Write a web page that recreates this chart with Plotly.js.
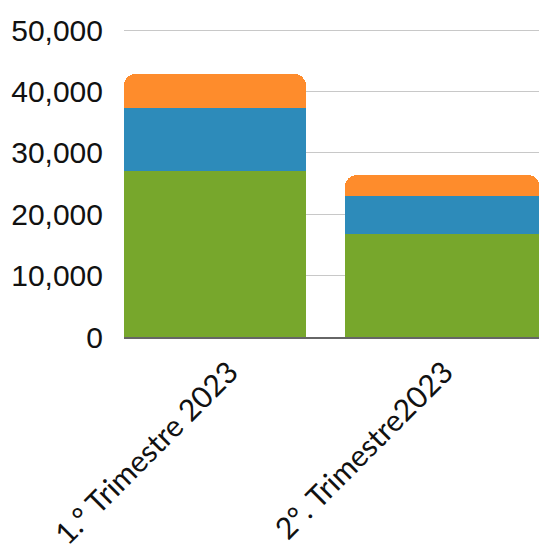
<!DOCTYPE html>
<html>
<head>
<meta charset="utf-8">
<script src="https://cdn.plot.ly/plotly-3.0.1.min.js"></script>
<style>html,body{margin:0;padding:0;overflow:hidden;background:#fff}</style>
</head>
<body>
<div id="chart" style="width:539px;height:548px"></div>
<script>
const categories = ["1.° Trimestre 2023", "2°. Trimestre2023"];
const seriesGreen = [27100, 16800];
const seriesBlue = [10250, 6200];
const seriesOrange = [5550, 3400];
const yTickValues = [0, 10000, 20000, 30000, 40000, 50000];

const barOffsets = [-0.491, -0.463];
const barWidths = [0.847, 0.907];
function mk(name, vals, color) {
  return {type: 'bar', name: name, x: categories, y: vals,
          offset: barOffsets, width: barWidths,
          marker: {color: color, line: {width: 0}}, hoverinfo: 'skip'};
}
const data = [
  mk('Serie 1', seriesGreen, '#77a72c'),
  mk('Serie 2', seriesBlue, '#2d8bba'),
  mk('Serie 3', seriesOrange, '#fe8c2c')
];
const layout = {
  width: 539, height: 548,
  margin: {l: 124, r: 0, t: 29, b: 211, pad: 0},
  barmode: 'stack',
  barcornerradius: 12,
  showlegend: false,
  paper_bgcolor: '#fff', plot_bgcolor: '#fff',
  xaxis: {
    type: 'category', range: [-0.491, 1.44],
    tickangle: -45, ticks: '', showgrid: false,
    showline: true, linecolor: '#666', linewidth: 1.5,
    tickfont: {family: 'Lato', size: 30, color: '#111'},
    ticklabelstandoff: 4, fixedrange: true
  },
  yaxis: {
    range: [0, 50200], tickvals: yTickValues, tickformat: ',',
    showgrid: true, gridcolor: '#c8c8c8', gridwidth: 1,
    zeroline: false, ticks: '',
    tickfont: {family: 'Liberation Sans', size: 30, color: '#111'},
    ticklabelstandoff: 20, fixedrange: true
  }
};
Plotly.newPlot('chart', data, layout, {displayModeBar: false, staticPlot: true});
</script>
</body>
</html>
